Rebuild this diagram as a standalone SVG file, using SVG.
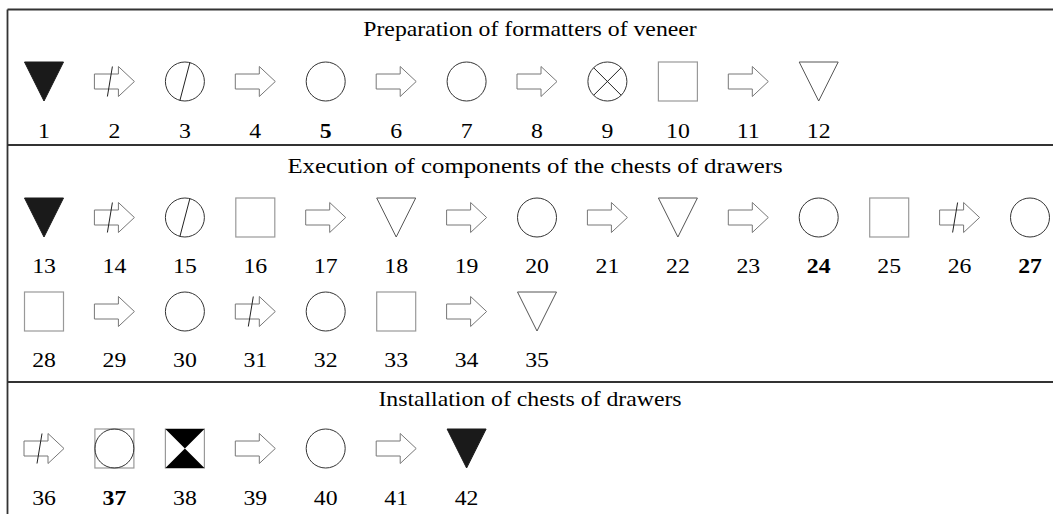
<svg xmlns="http://www.w3.org/2000/svg" xmlns:xlink="http://www.w3.org/1999/xlink" width="1053" height="514" viewBox="0 0 1053 514">
<style>
.frame{stroke:#333;stroke-width:1.8;fill:none}
.t{font-family:"Liberation Serif","Times New Roman",serif;font-size:22px;fill:#000;text-anchor:middle}
.b{font-weight:bold}
.circ{fill:none;stroke:#333;stroke-width:1}
.arr{fill:#fff;stroke:#777;stroke-width:1}
.sq{fill:none;stroke:#999;stroke-width:1.2}
.tri-o{fill:none;stroke:#555;stroke-width:1}
.tri-f{fill:#1a1a1a;stroke:#1a1a1a;stroke-width:1}
.ln{stroke:#222;stroke-width:1}
</style>
<defs>
<path id="arrow" class="arr" d="M-20,-7.5 H4 V-15 L20,0 L4,15 V7.5 H-20 Z"/>
<g id="arrowx"><use xlink:href="#arrow"/><line class="ln" x1="-2" y1="-15" x2="-7" y2="15"/></g>
<circle id="circle" class="circ" r="19.5"/>
<g id="circles"><use xlink:href="#circle"/><line class="ln" x1="5" y1="-19" x2="-5" y2="19"/></g>
<g id="circlex"><use xlink:href="#circle"/><line class="ln" x1="-13.8" y1="-13.8" x2="13.8" y2="13.8"/><line class="ln" x1="13.8" y1="-13.8" x2="-13.8" y2="13.8"/></g>
<rect id="square" class="sq" x="-19.5" y="-19.5" width="39" height="39"/>
<path id="trio" class="tri-o" d="M-19.5,-19.5 H19.5 L0,19.5 Z"/>
<path id="trif" class="tri-f" d="M-19.5,-19.5 H19.5 L0,19.5 Z"/>
<g id="sqcirc"><use xlink:href="#square"/><use xlink:href="#circle"/></g>
<g id="hourglass"><use xlink:href="#square"/><path fill="#000" d="M-19.5,-19.5 H19.5 L0,0 Z M-19.5,19.5 H19.5 L0,0 Z"/></g>
</defs>
<g id="frame">
<line class="frame" x1="7.5" y1="9.5" x2="1053" y2="9.5"/>
<line class="frame" x1="7.5" y1="9.5" x2="7.5" y2="514"/>
<line class="frame" x1="7.5" y1="145" x2="1053" y2="145"/>
<line class="frame" x1="7.5" y1="382" x2="1053" y2="382"/>
</g>
<g id="titles">
<text class="t" transform="translate(530,36) scale(1.08,1)">Preparation of formatters of veneer</text>
<text class="t" transform="translate(535,173) scale(1.128,1)">Execution of components of the chests of drawers</text>
<text class="t" transform="translate(530,406) scale(1.08,1)">Installation of chests of drawers</text>
</g>
<g id="connectors"/>
<g id="n1"><use xlink:href="#trif" x="44" y="81.5"/><text class="t" transform="translate(44,138) scale(1.08,1)">1</text></g>
<g id="n2"><use xlink:href="#arrowx" x="114.4" y="81.5"/><text class="t" transform="translate(114.4,138) scale(1.08,1)">2</text></g>
<g id="n3"><use xlink:href="#circles" x="184.9" y="81.5"/><text class="t" transform="translate(184.9,138) scale(1.08,1)">3</text></g>
<g id="n4"><use xlink:href="#arrow" x="255.3" y="81.5"/><text class="t" transform="translate(255.3,138) scale(1.08,1)">4</text></g>
<g id="n5"><use xlink:href="#circle" x="325.7" y="81.5"/><text class="t b" transform="translate(325.7,138) scale(1.08,1)">5</text></g>
<g id="n6"><use xlink:href="#arrow" x="396.2" y="81.5"/><text class="t" transform="translate(396.2,138) scale(1.08,1)">6</text></g>
<g id="n7"><use xlink:href="#circle" x="466.6" y="81.5"/><text class="t" transform="translate(466.6,138) scale(1.08,1)">7</text></g>
<g id="n8"><use xlink:href="#arrow" x="537" y="81.5"/><text class="t" transform="translate(537,138) scale(1.08,1)">8</text></g>
<g id="n9"><use xlink:href="#circlex" x="607.4" y="81.5"/><text class="t" transform="translate(607.4,138) scale(1.08,1)">9</text></g>
<g id="n10"><use xlink:href="#square" x="677.9" y="81.5"/><text class="t" transform="translate(677.9,138) scale(1.08,1)">10</text></g>
<g id="n11"><use xlink:href="#arrow" x="748.3" y="81.5"/><text class="t" transform="translate(748.3,138) scale(1.08,1)">11</text></g>
<g id="n12"><use xlink:href="#trio" x="818.7" y="81.5"/><text class="t" transform="translate(818.7,138) scale(1.08,1)">12</text></g>

<g id="n13"><use xlink:href="#trif" x="44" y="217.5"/><text class="t" transform="translate(44,273) scale(1.08,1)">13</text></g>
<g id="n14"><use xlink:href="#arrowx" x="114.4" y="217.5"/><text class="t" transform="translate(114.4,273) scale(1.08,1)">14</text></g>
<g id="n15"><use xlink:href="#circles" x="184.9" y="217.5"/><text class="t" transform="translate(184.9,273) scale(1.08,1)">15</text></g>
<g id="n16"><use xlink:href="#square" x="255.3" y="217.5"/><text class="t" transform="translate(255.3,273) scale(1.08,1)">16</text></g>
<g id="n17"><use xlink:href="#arrow" x="325.7" y="217.5"/><text class="t" transform="translate(325.7,273) scale(1.08,1)">17</text></g>
<g id="n18"><use xlink:href="#trio" x="396.2" y="217.5"/><text class="t" transform="translate(396.2,273) scale(1.08,1)">18</text></g>
<g id="n19"><use xlink:href="#arrow" x="466.6" y="217.5"/><text class="t" transform="translate(466.6,273) scale(1.08,1)">19</text></g>
<g id="n20"><use xlink:href="#circle" x="537" y="217.5"/><text class="t" transform="translate(537,273) scale(1.08,1)">20</text></g>
<g id="n21"><use xlink:href="#arrow" x="607.4" y="217.5"/><text class="t" transform="translate(607.4,273) scale(1.08,1)">21</text></g>
<g id="n22"><use xlink:href="#trio" x="677.9" y="217.5"/><text class="t" transform="translate(677.9,273) scale(1.08,1)">22</text></g>
<g id="n23"><use xlink:href="#arrow" x="748.3" y="217.5"/><text class="t" transform="translate(748.3,273) scale(1.08,1)">23</text></g>
<g id="n24"><use xlink:href="#circle" x="818.7" y="217.5"/><text class="t b" transform="translate(818.7,273) scale(1.08,1)">24</text></g>
<g id="n25"><use xlink:href="#square" x="889.2" y="217.5"/><text class="t" transform="translate(889.2,273) scale(1.08,1)">25</text></g>
<g id="n26"><use xlink:href="#arrowx" x="959.6" y="217.5"/><text class="t" transform="translate(959.6,273) scale(1.08,1)">26</text></g>
<g id="n27"><use xlink:href="#circle" x="1030" y="217.5"/><text class="t b" transform="translate(1030,273) scale(1.08,1)">27</text></g>

<g id="n28"><use xlink:href="#square" x="44" y="311.5"/><text class="t" transform="translate(44,367) scale(1.08,1)">28</text></g>
<g id="n29"><use xlink:href="#arrow" x="114.4" y="311.5"/><text class="t" transform="translate(114.4,367) scale(1.08,1)">29</text></g>
<g id="n30"><use xlink:href="#circle" x="184.9" y="311.5"/><text class="t" transform="translate(184.9,367) scale(1.08,1)">30</text></g>
<g id="n31"><use xlink:href="#arrowx" x="255.3" y="311.5"/><text class="t" transform="translate(255.3,367) scale(1.08,1)">31</text></g>
<g id="n32"><use xlink:href="#circle" x="325.7" y="311.5"/><text class="t" transform="translate(325.7,367) scale(1.08,1)">32</text></g>
<g id="n33"><use xlink:href="#square" x="396.2" y="311.5"/><text class="t" transform="translate(396.2,367) scale(1.08,1)">33</text></g>
<g id="n34"><use xlink:href="#arrow" x="466.6" y="311.5"/><text class="t" transform="translate(466.6,367) scale(1.08,1)">34</text></g>
<g id="n35"><use xlink:href="#trio" x="537" y="311.5"/><text class="t" transform="translate(537,367) scale(1.08,1)">35</text></g>

<g id="n36"><use xlink:href="#arrowx" x="44" y="448.5"/><text class="t" transform="translate(44,505) scale(1.08,1)">36</text></g>
<g id="n37"><use xlink:href="#sqcirc" x="114.4" y="448.5"/><text class="t b" transform="translate(114.4,505) scale(1.08,1)">37</text></g>
<g id="n38"><use xlink:href="#hourglass" x="184.9" y="448.5"/><text class="t" transform="translate(184.9,505) scale(1.08,1)">38</text></g>
<g id="n39"><use xlink:href="#arrow" x="255.3" y="448.5"/><text class="t" transform="translate(255.3,505) scale(1.08,1)">39</text></g>
<g id="n40"><use xlink:href="#circle" x="325.7" y="448.5"/><text class="t" transform="translate(325.7,505) scale(1.08,1)">40</text></g>
<g id="n41"><use xlink:href="#arrow" x="396.2" y="448.5"/><text class="t" transform="translate(396.2,505) scale(1.08,1)">41</text></g>
<g id="n42"><use xlink:href="#trif" x="466.6" y="448.5"/><text class="t" transform="translate(466.6,505) scale(1.08,1)">42</text></g>
</svg>
